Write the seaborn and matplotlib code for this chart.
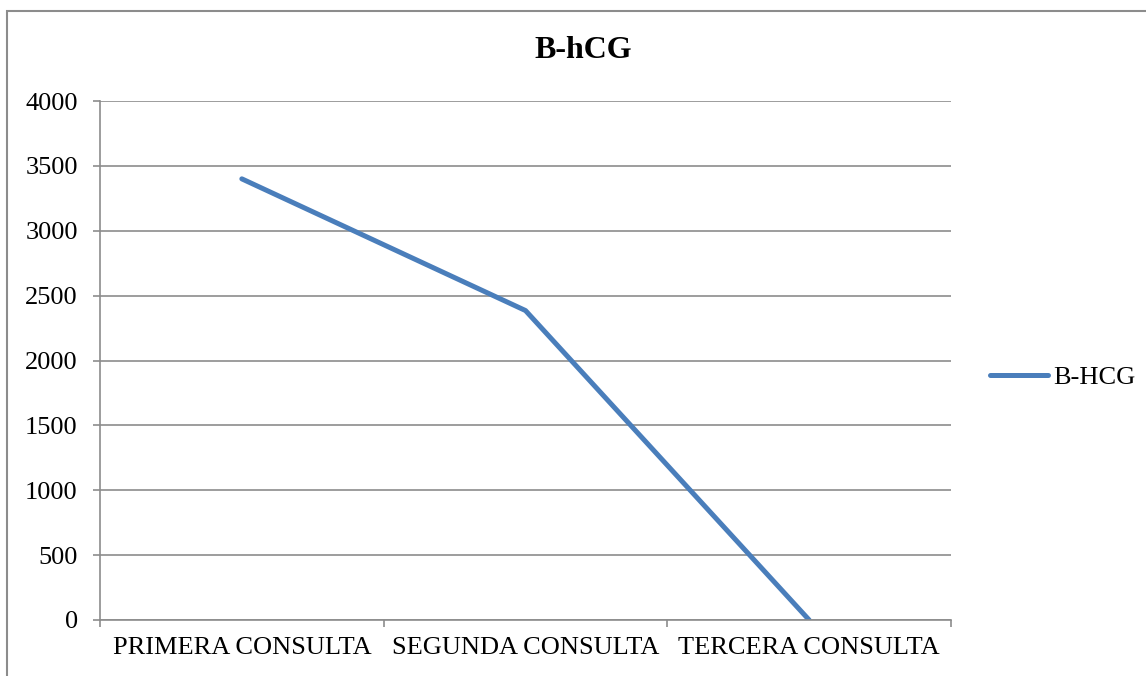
import matplotlib
matplotlib.use("Agg")
import matplotlib.pyplot as plt
import seaborn as sns
import pandas as pd
from matplotlib.patches import Rectangle
from matplotlib.ticker import FixedLocator

consultas = ["PRIMERA CONSULTA", "SEGUNDA CONSULTA", "TERCERA CONSULTA"]
bhcg = [3400, 2385, 0]
series_name = "B-HCG"
title = "B-hCG"

sns.set_style("white")
plt.rcParams["font.family"] = ["Liberation Serif", "DejaVu Serif"]
plt.rcParams["text.color"] = "black"
plt.rcParams["xtick.color"] = "black"
plt.rcParams["ytick.color"] = "black"

df = pd.DataFrame({"consulta": consultas, "valor": bhcg})

fig = plt.figure(figsize=(11.46, 6.76), dpi=100)
ax = fig.add_axes([100 / 1146, 1 - 620 / 676, 851 / 1146, 519 / 676])

# outer chart frame (cut off on right and bottom like the original)
fig.patches.append(Rectangle((7 / 1146, -0.1), 1.2, 1 - 11 / 676 + 0.1,
                             transform=fig.transFigure, fill=False,
                             edgecolor="#8c8c8c", linewidth=1.5))

sns.lineplot(data=df, x="consulta", y="valor", ax=ax, color="#4a7ebb",
             linewidth=3.6, label=series_name, sort=False)

ax.set_ylim(0, 4000)
ax.set_yticks(range(0, 4001, 500))
ax.set_xlim(-0.5, 2.5)
ax.xaxis.set_major_locator(FixedLocator([-0.5, 0.5, 1.5, 2.5]))
ax.set_xticklabels([])
ax.xaxis.set_minor_locator(FixedLocator([0, 1, 2]))
ax.set_xticklabels(consultas, minor=True)
ax.tick_params(axis="x", which="minor", length=0, pad=12, labelsize=19)
ax.tick_params(axis="x", which="major", length=5, color="#8c8c8c", width=1.2,
               direction="out", bottom=True)
ax.tick_params(axis="y", length=5, color="#8c8c8c", width=1.2, direction="out",
               left=True, labelsize=19, pad=11)
ax.grid(axis="y", color="#8c8c8c", linewidth=1.2)
ax.set_axisbelow(True)
for side in ["top", "right"]:
    ax.spines[side].set_visible(False)
for side in ["left", "bottom"]:
    ax.spines[side].set_color("#8c8c8c")
    ax.spines[side].set_linewidth(1.2)
ax.set_xlabel("")
ax.set_ylabel("")

ax.legend(loc="center left", bbox_to_anchor=(1.046, 0.468), frameon=False,
          fontsize=19, handlelength=2.2, handletextpad=0.2, borderaxespad=0,
          borderpad=0)

fig.text(583 / 1146, 1 - 50 / 676, title, ha="center", va="center",
         fontsize=23, fontweight="bold")

fig.savefig("out.png", dpi=100)
